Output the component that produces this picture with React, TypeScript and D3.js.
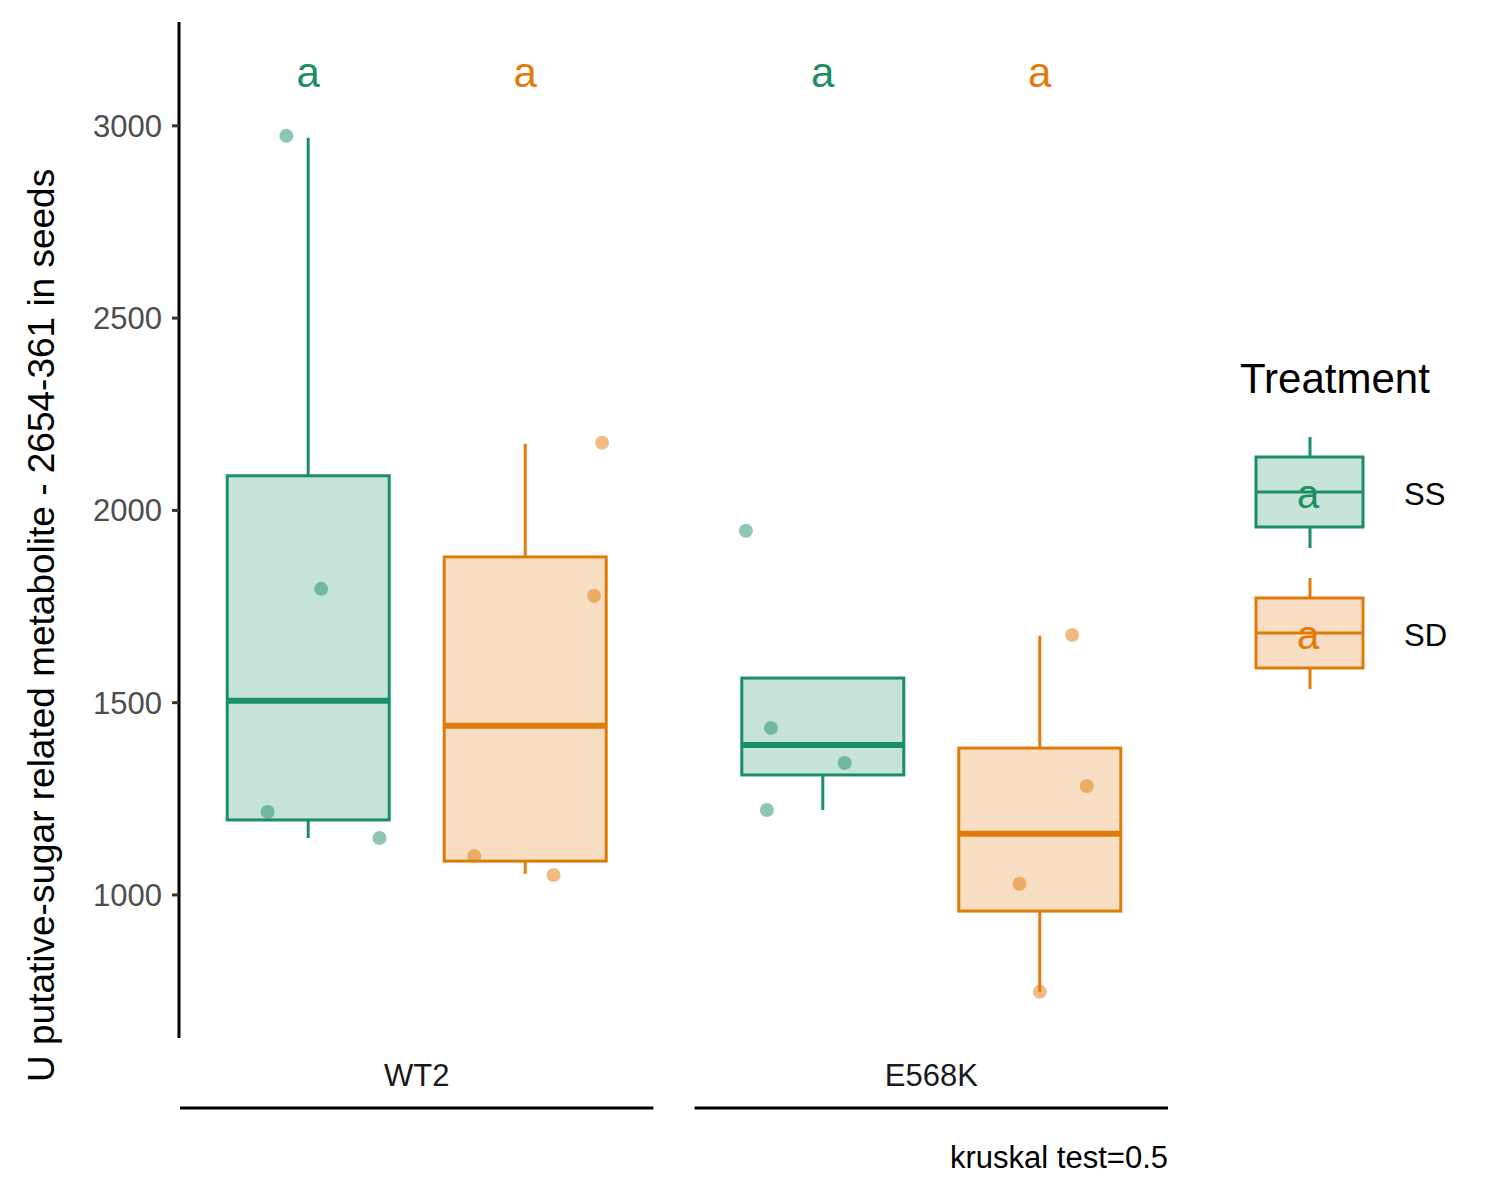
import React from 'react';
import * as d3 from 'd3';

const genotypes = ['WT2', 'E568K'];
const treatments = ['SS', 'SD'];
const colors: Record<string, string> = { SS: '#1B8E65', SD: '#E07B0A' };

// box stats per genotype/treatment: [whiskerLow, q1, median, q3, whiskerHigh]
const boxStats: Record<string, number[]> = {
  'WT2-SS': [1148, 1195, 1505, 2090, 2969],
  'WT2-SD': [1055, 1088, 1440, 1879, 2173],
  'E568K-SS': [1221, 1312, 1390, 1564, 1564],
  'E568K-SD': [748, 958, 1159, 1382, 1674],
};
// jittered points: [x offset within box (-1..1), value]
const points: Record<string, number[][]> = {
  'WT2-SS': [[-0.27, 2974], [0.16, 1796], [-0.5, 1216], [0.88, 1148]],
  'WT2-SD': [[0.95, 2176], [0.85, 1778], [-0.63, 1101], [0.35, 1052]],
  'E568K-SS': [[-0.95, 1947], [-0.64, 1434], [0.27, 1343], [-0.69, 1221]],
  'E568K-SD': [[0.4, 1676], [0.58, 1283], [-0.25, 1029], [0, 748]],
};
const letters = ['a', 'a', 'a', 'a'];
const yTicks = [1000, 1500, 2000, 2500, 3000];

const font = 'Liberation Sans, Arial, sans-serif';

export default function App() {
  const y = d3.scaleLinear().domain([628, 3270]).range([1038, 22]);
  const facetX = d3.scaleBand().domain(genotypes).range([180, 1168]).paddingInner(0.08);
  const fw = facetX.bandwidth();
  const dodge = d3.scalePoint().domain(treatments).range([fw / 2 - 108.5, fw / 2 + 108.5]);
  const bw = 162;

  return (
    <svg width={1500} height={1200} style={{ position: 'absolute', left: 0, top: 0, background: '#fff' }} fontFamily={font}>
      <line x1={179} x2={179} y1={22} y2={1038} stroke="#000" strokeWidth={3} />
      {yTicks.map(t => (
        <g key={t}>
          <line x1={172} x2={179} y1={y(t)} y2={y(t)} stroke="#333" strokeWidth={3} />
          <text x={162} y={y(t)} dy="0.35em" textAnchor="end" fontSize={31} fill="#4d4d4d">{t}</text>
        </g>
      ))}
      <text transform="translate(54,1082) rotate(-90)" textAnchor="start" fontSize={37} fill="#000">
        U putative-sugar related metabolite - 2654-361 in seeds
      </text>

      {genotypes.map(g => {
        const fx = facetX(g)!;
        return (
          <g key={g}>
            <text x={fx + fw / 2} y={1086} textAnchor="middle" fontSize={31} fill="#1a1a1a">{g}</text>
            <line x1={fx} x2={fx + fw} y1={1108} y2={1108} stroke="#000" strokeWidth={3} />
            {treatments.map((t, ti) => {
              const key = `${g}-${t}`;
              const [lo, q1, med, q3, hi] = boxStats[key];
              const cx = fx + dodge(t)!;
              const x0 = cx - bw / 2;
              const c = colors[t];
              return (
                <g key={key}>
                  <line x1={cx} x2={cx} y1={y(hi)} y2={y(q3)} stroke={c} strokeWidth={3} />
                  <line x1={cx} x2={cx} y1={y(q1)} y2={y(lo)} stroke={c} strokeWidth={3} />
                  <rect x={x0} y={y(q3)} width={bw} height={y(q1) - y(q3)} fill={c} fillOpacity={0.25} stroke={c} strokeWidth={3} />
                  <line x1={x0} x2={x0 + bw} y1={y(med)} y2={y(med)} stroke={c} strokeWidth={6} />
                  {points[key].map(([j, v], i) => (
                    <circle key={i} cx={cx + j * bw / 2} cy={y(v)} r={7} fill={c} fillOpacity={0.5} />
                  ))}
                  <text x={cx} y={y(3140)} dy="0.35em" textAnchor="middle" fontSize={42} fill={c}>
                    {letters[genotypes.indexOf(g) * 2 + ti]}
                  </text>
                </g>
              );
            })}
          </g>
        );
      })}

      <text x={1168} y={1168} textAnchor="end" fontSize={31} fill="#000">kruskal test=0.5</text>

      <text x={1240} y={393} fontSize={42} fill="#000">Treatment</text>
      {treatments.map((t, i) => {
        const top = 437 + i * 141;
        const c = colors[t];
        return (
          <g key={t}>
            <line x1={1310} x2={1310} y1={top} y2={top + 111} stroke={c} strokeWidth={3} />
            <rect x={1256} y={top + 20} width={107} height={70} fill="#fff" />
            <rect x={1256} y={top + 20} width={107} height={70} fill={c} fillOpacity={0.25} stroke={c} strokeWidth={3} />
            <line x1={1256} x2={1363} y1={top + 55} y2={top + 55} stroke={c} strokeWidth={3} />
            <text x={1308} y={top + 57} dy="0.35em" textAnchor="middle" fontSize={40} fill={c}>a</text>
            <text x={1404} y={top + 57} dy="0.35em" fontSize={31} fill="#000">{t}</text>
          </g>
        );
      })}
    </svg>
  );
}
